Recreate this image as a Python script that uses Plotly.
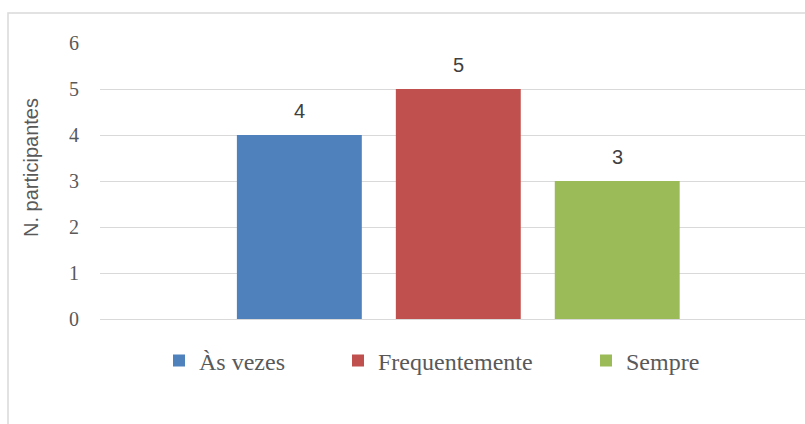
import plotly.graph_objects as go

# Survey answers: how often, and number of participants per answer
series_names = ["Às vezes", "Frequentemente", "Sempre"]
series_values = [4, 5, 3]
series_colors = ["#4F81BD", "#C0504D", "#9BBB59"]
y_ticks = [0, 1, 2, 3, 4, 5, 6]
y_title = "N. participantes"

BARGAP = 0.3
GROUPGAP = 0.214
n = len(series_values)

# plot area in pixels: left 100, right 805, top 43, bottom 319
PX_L, PX_W, PX_B, PX_H = 100, 705, 319, 276


def px_x(px):
    return (px - PX_L) / PX_W


def px_y(py):
    return (PX_B - py) / PX_H


legend_ids = ["legend", "legend2", "legend3"]
legend_left_px = [159, 338, 586]

fig = go.Figure()
for name, val, col, lid in zip(series_names, series_values, series_colors, legend_ids):
    fig.add_trace(go.Bar(x=[0], y=[val], name=name, marker_color=col,
                         marker_line_width=0, legend=lid))

# value labels above each bar (group slots are (1 - bargap) / n wide)
slot = (1 - BARGAP) / n
for i, val in enumerate(series_values):
    fig.add_annotation(x=(i - (n - 1) / 2) * slot, y=val, text=str(val),
                       xref="x", yref="y", yanchor="bottom", yshift=11,
                       showarrow=False,
                       font=dict(family="Liberation Sans", size=20, color="#404040"))

# vertical axis title
fig.add_annotation(x=px_x(31), y=px_y(168), xref="paper", yref="paper",
                   text=y_title, textangle=-90, showarrow=False,
                   xanchor="center", yanchor="middle",
                   font=dict(family="Liberation Sans", size=20, color="#595959"))

# chart frame
fig.add_shape(type="rect", xref="paper", yref="paper",
              x0=px_x(8), x1=1.2, y0=-1.0, y1=px_y(13),
              line=dict(color="#d9d9d9", width=1.5), fillcolor="rgba(0,0,0,0)",
              layer="below")

legend_style = dict(orientation="h", xanchor="left", yanchor="middle",
                    y=px_y(361), itemwidth=30, bgcolor="rgba(0,0,0,0)",
                    font=dict(family="Liberation Serif", size=24, color="#595959"))
legends = {lid: dict(legend_style, x=px_x(lx))
           for lid, lx in zip(legend_ids, legend_left_px)}

fig.update_layout(
    width=805, height=424,
    margin=dict(l=PX_L, r=0, t=43, b=424 - PX_B),
    paper_bgcolor="white", plot_bgcolor="white",
    barmode="group", bargap=BARGAP, bargroupgap=GROUPGAP,
    showlegend=True,
    **legends,
    xaxis=dict(range=[-0.526, 0.509], showticklabels=False, showgrid=False,
               zeroline=False, showline=False, ticks=""),
    yaxis=dict(range=[0, 6], tickvals=y_ticks, showgrid=True, gridcolor="#d9d9d9",
               gridwidth=1, zeroline=True, zerolinecolor="#d9d9d9", zerolinewidth=1,
               showline=False, ticks="outside", ticklen=16,
               tickcolor="rgba(0,0,0,0)",
               tickfont=dict(family="Liberation Serif", size=20, color="#595959")),
)

fig.write_html("out.html")
